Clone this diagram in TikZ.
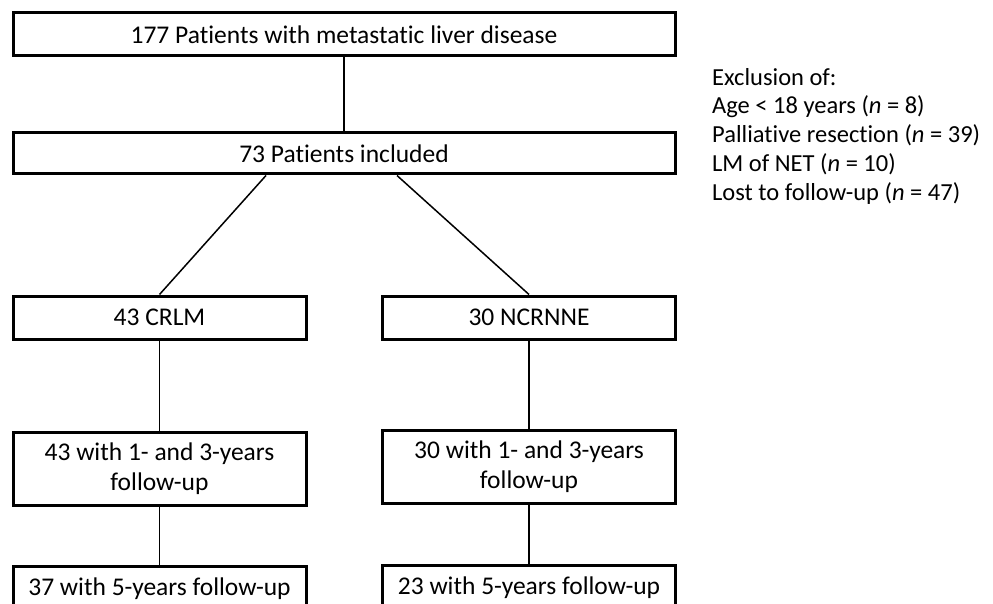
\documentclass[tikz,border=0pt]{standalone}
\usepackage{fontspec}
\setmainfont{Carlito}[Ligatures=NoCommon]
\begin{document}
\begin{tikzpicture}[x=1pt,y=-1pt,
  box/.style={draw, line width=3pt, inner sep=0pt, align=center,
    font=\fontsize{25.5}{30}\selectfont},
  wide/.style={minimum width=662pt, minimum height=43pt},
  col/.style={minimum width=293pt},
  link/.style={line width=1.5pt}]
\useasboundingbox (0,0) rectangle (993,604);
\clip (0,0) rectangle (993,604);
\node[box, wide] (top) at (344,34.5) {177 Patients with metastatic liver disease};
\node[box, wide, minimum height=41pt] (incl) at (344,153.5) {73 Patients included};
\node[box, col, minimum height=43pt] (crlm) at (159.5,317.5) {43 CRLM};
\node[box, col, minimum height=43pt] (ncr) at (529,317.5) {30 NCRNNE};
\node[box, col, minimum height=73pt] (fl) at (159.5,468.5) {43 with 1- and 3-years\\follow-up};
\node[box, col, minimum height=73pt] (fr) at (529,466.5) {30 with 1- and 3-years\\follow-up};
\node[box, col, minimum height=46pt] (gl) at (159.5,589) {37 with 5-years follow-up};
\node[box, col, minimum height=46pt] (gr) at (529,588) {23 with 5-years follow-up};
\node[anchor=north west, inner sep=0pt, align=left,
  font=\fontsize{24.5}{28.7}\selectfont] (excl) at (712,68)
  {Exclusion of:\\
   Age < 18 years (\textit{n} = 8)\\
   Palliative resection (\textit{n} = 39)\\
   LM of NET (\textit{n} = 10)\\
   Lost to follow-up (\textit{n} = 47)};
\draw[link] (top) -- (incl);
\draw[link] ([xshift=-78pt]incl.south) -- (crlm.north);
\draw[link] ([xshift=53pt]incl.south) -- (ncr.north);
\draw[link] (crlm) -- (fl);
\draw[link] (ncr) -- (fr);
\draw[link] (fl) -- (gl);
\draw[link] (fr) -- (gr);
\end{tikzpicture}
\end{document}
